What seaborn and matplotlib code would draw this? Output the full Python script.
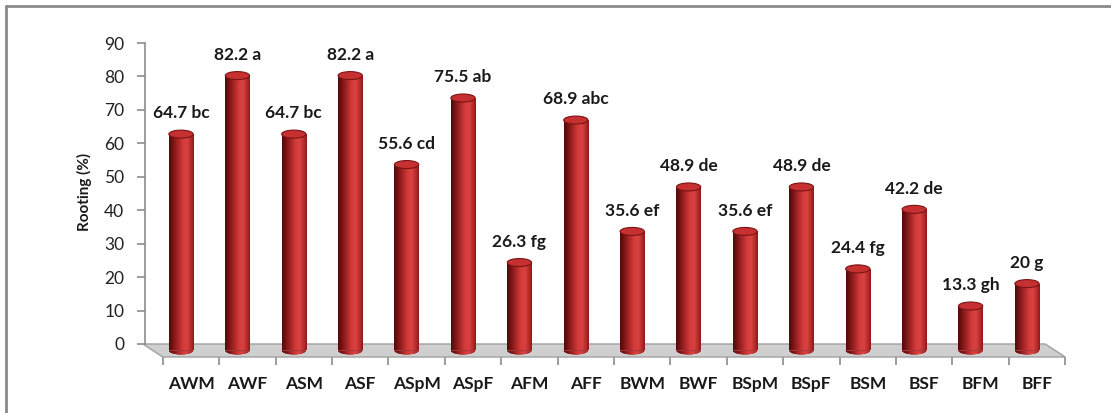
import numpy as np
import matplotlib
matplotlib.use('Agg')
import matplotlib.pyplot as plt
import matplotlib.transforms as mtransforms
from matplotlib.patches import Ellipse, Polygon
from matplotlib.lines import Line2D
from matplotlib.colors import LinearSegmentedColormap
import seaborn as sns

# ========================================
# Data
# ========================================
treatments = ['AWM', 'AWF', 'ASM', 'ASF', 'ASpM', 'ASpF', 'AFM', 'AFF',
              'BWM', 'BWF', 'BSpM', 'BSpF', 'BSM', 'BSF', 'BFM', 'BFF']
rooting = [64.7, 82.2, 64.7, 82.2, 55.6, 75.5, 26.3, 68.9,
           35.6, 48.9, 35.6, 48.9, 24.4, 42.2, 13.3, 20]
groups = ['bc', 'a', 'bc', 'a', 'cd', 'ab', 'fg', 'abc',
          'ef', 'de', 'ef', 'de', 'fg', 'de', 'gh', 'g']
y_ticks = [0, 10, 20, 30, 40, 50, 60, 70, 80, 90]

# ========================================
# Style
# ========================================
sns.set_theme(style='white')
plt.rcParams['font.family'] = ['Lato', 'DejaVu Sans']

W, H, DPI = 1111, 413, 100
fig = plt.figure(figsize=(W / DPI, H / DPI), dpi=DPI)

# back plane geometry (pixels)
PX_PER_UNIT_Y = 301 / 90.0
PX_PER_CAT = 56.4
floor_depth_y = 13 / PX_PER_UNIT_Y          # front edge of floor, in data units
floor_depth_x = 20 / PX_PER_CAT

ax = fig.add_axes([145 / W, (H - 357) / H, 935 / W, 314 / H])
ax.set_facecolor('none')

# middle plane (bars) - shifted right/down from the back wall
mid = ax.transData + mtransforms.ScaledTranslation(10 / DPI, -6.5 / DPI, fig.dpi_scale_trans)

bar_width = 0.43
sns.barplot(x=treatments, y=rooting, color='#b52626', width=bar_width,
            errorbar=None, ax=ax, zorder=3)

# floor
n = len(treatments)
floor = Polygon([(-0.5, 0), (n - 0.5, 0),
                 (n - 0.5 + floor_depth_x, -floor_depth_y), (-0.5 + floor_depth_x, -floor_depth_y)],
                closed=True, facecolor='#cfcfcf', edgecolor='#a0a0a0', lw=1.0,
                zorder=1, clip_on=False)
ax.add_patch(floor)

# cylinder shading
cyl = LinearSegmentedColormap.from_list('cyl', [
    (0.0, '#4e0a0a'), (0.18, '#7d1515'), (0.55, '#d43a3a'),
    (0.72, '#d94343'), (0.9, '#b42727'), (1.0, '#8a1a1a')])
grad = np.linspace(0, 1, 200).reshape(1, -1)
cap_h = 8 / PX_PER_UNIT_Y

for p, v in zip(ax.patches, rooting):
    p.set_transform(mid)
    p.set_clip_on(False)
    p.set_edgecolor('none')
    x0 = p.get_x()
    w = p.get_width()
    xc = x0 + w / 2

    # bottom cap
    bottom = Ellipse((xc, 0), w, cap_h, transform=mid, facecolor='#7d1515',
                     edgecolor='none', zorder=2, clip_on=False)
    ax.add_patch(bottom)
    im_b = ax.imshow(grad, cmap=cyl, aspect='auto', extent=(x0, x0 + w, -cap_h, cap_h),
                     transform=mid, zorder=2.5, interpolation='bilinear')
    im_b.set_clip_path(bottom)

    # body
    im = ax.imshow(grad, cmap=cyl, aspect='auto', extent=(x0, x0 + w, 0, v),
                   transform=mid, zorder=3.5, interpolation='bilinear')
    im.set_clip_path(p)

    # top cap
    ax.add_patch(Ellipse((xc, v), w, cap_h, transform=mid, facecolor='#c73030',
                         edgecolor='#7a1414', lw=0.8, zorder=4, clip_on=False))

# value labels
for i, (v, g) in enumerate(zip(rooting, groups)):
    ax.annotate(f'{v:g} {g}', xy=(i, v), xycoords=mid, xytext=(0, 15),
                textcoords='offset points', ha='center', va='center',
                fontsize=12.5, fontweight='bold', color='#1a1a1a', zorder=6,
                annotation_clip=False)

# axes
ax.set_xlim((145 - 171) / PX_PER_CAT, (1080 - 171) / PX_PER_CAT)
ax.set_ylim(-floor_depth_y, 90)
ax.set_yticks(y_ticks)
ax.spines['left'].set_bounds(0, 90)
for s in ['top', 'right', 'bottom']:
    ax.spines[s].set_visible(False)
ax.spines['left'].set_color('#8c8c8c')
ax.spines['left'].set_linewidth(1.2)
ax.tick_params(axis='y', left=True, length=6, width=1.2, color='#8c8c8c',
               pad=9, labelsize=12.5, labelcolor='#222222')

# x ticks on the front edge of the floor
ax.set_xticks(np.arange(n + 1) - 0.5 + floor_depth_x)
ax.set_xticklabels([])
ax.set_xticks(np.arange(n) + floor_depth_x, minor=True)
ax.set_xticklabels(treatments, minor=True, fontsize=12.5, fontweight='bold', color='#1a1a1a')
ax.tick_params(axis='x', which='major', bottom=True, length=6, width=1.2, color='#8c8c8c')
ax.tick_params(axis='x', which='minor', bottom=False, length=0, pad=14)

ax.set_xlabel('')
ax.set_ylabel('Rooting (%)', fontsize=11, fontweight='bold', color='#1a1a1a')
ax.yaxis.set_label_coords(-(145 - 92) / 935, (357 - 192) / 314)

# outer frame (left and top)
fig.add_artist(Line2D([6 / W, 6 / W], [0, 1 - 6 / H], transform=fig.transFigure,
                      color='#8a8a8a', lw=2))
fig.add_artist(Line2D([6 / W, 1], [1 - 6 / H, 1 - 6 / H], transform=fig.transFigure,
                      color='#8a8a8a', lw=2))

fig.savefig('out.png', dpi=DPI)
